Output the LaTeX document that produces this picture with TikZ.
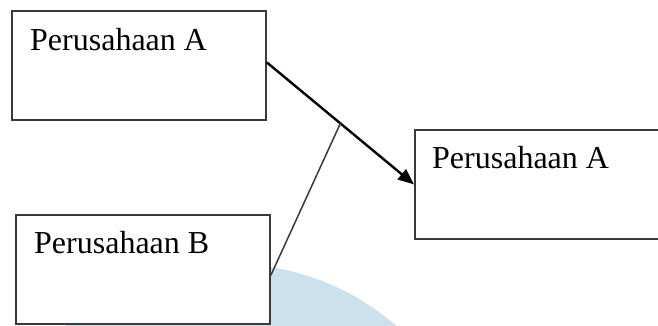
\documentclass[tikz,border=0pt]{standalone}
\usepackage{fontspec}
\setmainfont{Liberation Serif}
\usetikzlibrary{arrows.meta}
\definecolor{wm}{HTML}{CCE0EE}
\definecolor{edge}{HTML}{3A3A3A}
\tikzset{
  box/.style={draw=edge, line width=1.8pt, fill=white, rectangle, minimum width=254pt, minimum height=109pt, inner sep=0pt, anchor=north west},
  lbl/.style={anchor=base west, inner sep=0pt, font=\fontsize{32}{37}\selectfont},
  arr/.style={draw=black, line width=2.4pt, -{Triangle[length=16pt,width=13pt]}},
  thin/.style={draw=edge, line width=1.5pt}
}
\begin{document}
\begin{tikzpicture}[x=1pt,y=-1pt]
\useasboundingbox (0,0) rectangle (658,325);
\clip (0,0) rectangle (658,325);
\fill[wm] (231,516) circle (252);
\node[box] (a1) at (11,10) {};
\node[box] (b) at (15,214) {};
\node[box] (a2) at (414,129) {};
\node[lbl] (ta1) at (30,50) {Perusahaan A};
\node[lbl] (tb) at (34,253) {Perusahaan B};
\node[lbl] (ta2) at (432,168) {Perusahaan A};
\coordinate (j) at (341,122);
\draw[arr] ([yshift=3pt]a1.east) -- (a2.west);
\draw[thin] ([yshift=-6pt]b.east) -- (j);
\end{tikzpicture}
\end{document}
